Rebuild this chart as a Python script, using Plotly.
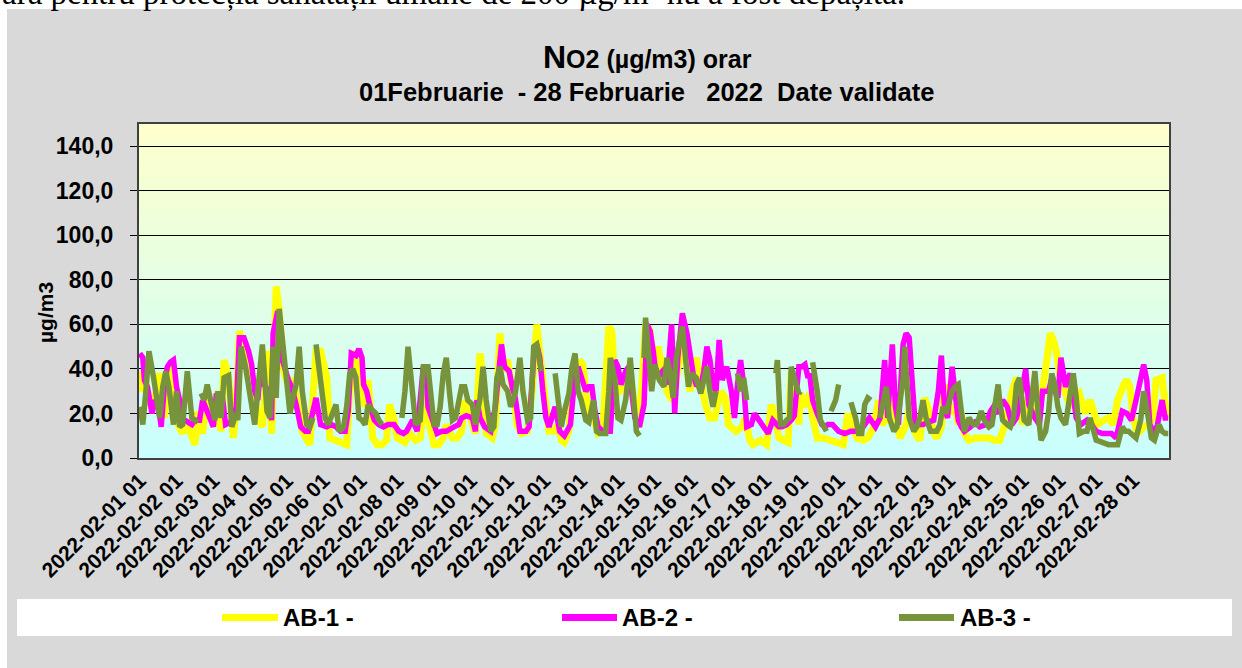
import plotly.graph_objects as go

# ---------------- data (hour index 0..671 -> category label) ----------------
DAYS = list(range(1, 29))
CATEGORIES = [f"2022-02-{d:02d} {h:02d}" for d in DAYS for h in range(1, 25)]
TICK_LABELS = [f"2022-02-{d:02d} 01" for d in DAYS]

AB1_HOUR = [0, 2, 4, 7, 10, 13, 16, 18, 21, 25, 28, 30, 34, 36, 38, 41, 44, 48, 51, 53, 55, 58, 61, 63, 65, 69, 74, 77, 80, 84, 86, 89, 91, 94, 98, 100, 104, 106, 111, 115, 118, 122, 124, 128, 133, 135, 137, 141, 143, 145, 147, 149, 152, 155, 158, 161, 163, 166, 168, 170, 173, 176, 180, 183, 186, 188, 192, 195, 198, 200, 204, 207, 210, 212, 216, 219, 222, 224, 226, 230, 232, 235, 237, 240, 242, 244, 246, 249, 253, 256, 259, 261, 263, 265, 267, 270, 273, 275, 277, 280, 282, 285, 287, 289, 292, 293, 296, 299, 302, 306, 308, 310, 313, 317, 320, 323, 326, 330, 333, 335, 338, 341, 344, 347, 350, 354, 356, 359, 363, 366, 369, 372, 375, 379, 382, 384, 386, 389, 393, 395, 398, 400, 405, 409, 412, 414, 417, 420, 423, 425, 427, 430, 431, 433, 435, 437, 439, 442, 446, 450, 455, 459, 462, 464, 468, 472, 475, 479, 482, 484, 487, 491, 493, 496, 500, 504, 506, 509, 512, 514, 518, 520, 523, 525, 527, 531, 532, 534, 536, 538, 541, 545, 549, 554, 558, 561, 564, 568, 570, 572, 574, 576, 579, 581, 583, 585, 588, 592, 594, 596, 598, 600, 603, 605, 607, 610, 613, 617, 620, 622, 625, 629, 632, 635, 638, 642, 644, 646, 648, 651, 655, 658, 661, 663, 667, 669, 671]
AB1_NO2 = [39, 30, 33, 25, 27, 38, 18, 30, 43, 15, 11, 17, 8, 6, 21, 11, 30, 14, 30, 12, 44, 36, 9, 23, 57, 47, 32, 18, 14, 48, 11, 77, 66, 39, 30, 36, 17, 12, 6, 48, 48, 36, 9, 8, 6, 6, 30, 48, 45, 29, 23, 35, 9, 6, 6, 8, 24, 17, 9, 8, 7, 11, 8, 9, 29, 18, 6, 6, 9, 15, 9, 9, 12, 26, 17, 11, 47, 36, 11, 9, 15, 56, 39, 44, 35, 30, 15, 11, 12, 30, 60, 45, 30, 23, 12, 12, 15, 8, 7, 12, 30, 38, 44, 42, 23, 18, 18, 11, 12, 59, 57, 33, 30, 33, 38, 23, 14, 60, 57, 38, 50, 38, 30, 26, 35, 54, 45, 30, 45, 32, 24, 18, 18, 30, 27, 15, 14, 12, 14, 18, 8, 6, 8, 6, 24, 20, 9, 8, 7, 39, 30, 15, 29, 23, 26, 29, 18, 9, 9, 8, 7, 6, 20, 15, 9, 8, 9, 14, 26, 15, 17, 30, 18, 9, 15, 29, 11, 8, 27, 23, 11, 9, 14, 33, 26, 20, 23, 15, 20, 11, 8, 9, 9, 9, 8, 8, 14, 27, 32, 36, 30, 15, 23, 32, 21, 17, 26, 45, 56, 53, 48, 38, 30, 27, 23, 27, 29, 20, 26, 21, 15, 17, 18, 15, 26, 33, 35, 32, 18, 11, 14, 15, 18, 35, 36, 24, 18]

AB2_HOUR = [0, 2, 3, 5, 8, 10, 12, 14, 16, 18, 20, 22, 24, 26, 27, 30, 34, 36, 39, 41, 43, 46, 48, 50, 52, 54, 56, 59, 61, 63, 65, 68, 71, 73, 75, 77, 79, 81, 84, 86, 87, 90, 93, 97, 99, 102, 105, 108, 110, 115, 118, 122, 125, 128, 131, 134, 136, 138, 141, 143, 145, 146, 148, 150, 153, 156, 159, 162, 166, 169, 172, 174, 178, 181, 185, 187, 188, 191, 194, 197, 200, 205, 208, 210, 213, 217, 219, 220, 222, 225, 229, 232, 236, 238, 241, 243, 245, 248, 252, 254, 257, 259, 261, 263, 265, 267, 269, 271, 274, 277, 281, 284, 286, 288, 291, 293, 295, 297, 299, 302, 307, 310, 312, 314, 317, 319, 321, 323, 326, 329, 331, 333, 335, 337, 341, 344, 347, 349, 351, 354, 357, 359, 361, 363, 366, 368, 370, 372, 374, 376, 378, 380, 383, 386, 388, 390, 392, 394, 396, 399, 401, 404, 407, 410, 413, 417, 419, 422, 425, 427, 430, 432, 434, 436, 437, 439, 442, 445, 447, 449, 452, 456, 460, 464, 468, 472, 476, 480, 483, 486, 488, 491, 493, 495, 498, 500, 502, 504, 506, 508, 511, 514, 518, 521, 523, 525, 527, 530, 532, 534, 536, 538, 542, 545, 548, 552, 555, 557, 560, 563, 566, 569, 572, 574, 578, 580, 582, 584, 587, 589, 593, 595, 597, 599, 601, 604, 607, 609, 611, 614, 618, 621, 624, 628, 631, 634, 637, 641, 644, 647, 650, 653, 655, 657, 659, 662, 664, 667, 669, 671]
AB2_NO2 = [47, 45, 35, 32, 20, 26, 24, 14, 32, 41, 43, 44, 32, 26, 18, 17, 15, 17, 17, 26, 23, 18, 14, 29, 23, 27, 15, 16, 18, 23, 54, 54, 48, 42, 30, 26, 42, 33, 30, 17, 56, 66, 44, 35, 32, 24, 14, 12, 12, 27, 15, 14, 15, 14, 12, 12, 21, 47, 46, 49, 45, 33, 30, 24, 17, 15, 14, 15, 15, 12, 11, 12, 17, 12, 41, 38, 23, 17, 11, 12, 12, 14, 15, 18, 19, 18, 12, 26, 18, 14, 12, 23, 51, 41, 39, 32, 27, 12, 12, 14, 45, 51, 45, 30, 18, 14, 18, 23, 12, 10, 15, 38, 41, 36, 30, 32, 32, 21, 14, 12, 12, 44, 41, 33, 39, 41, 29, 18, 14, 24, 60, 57, 48, 36, 39, 33, 60, 20, 45, 65, 56, 45, 38, 33, 32, 39, 50, 44, 32, 30, 53, 35, 41, 30, 18, 33, 44, 33, 14, 15, 20, 17, 14, 11, 17, 14, 14, 15, 17, 19, 41, 41, 42, 36, 38, 26, 20, 15, 14, 15, 15, 12, 11, 12, 12, 14, 18, 14, 18, 44, 18, 51, 23, 15, 51, 56, 54, 30, 14, 15, 15, 16, 17, 30, 46, 23, 18, 41, 27, 17, 14, 12, 14, 16, 14, 15, 21, 23, 20, 26, 23, 15, 18, 24, 40, 24, 21, 18, 15, 30, 30, 36, 30, 27, 45, 32, 38, 26, 18, 15, 17, 15, 12, 11, 11, 11, 9, 21, 20, 17, 26, 36, 42, 35, 15, 11, 15, 26, 18, 18]

AB3_HOUR = [0, 2, 4, 6, 9, 11, 13, 15, 17, 19, 22, 24, 26, 28, 31, 34, 36, 38, 39, 40, 42, 44, 47, 49, 51, 53, 55, 58, 60, 63, 64, 66, 69, 72, 75, 77, 80, 83, 85, 87, 89, 91, 93, 96, 98, 100, 102, 104, 106, 109, 111, 113, 114, 115, 118, 121, 123, 126, 128, 130, 133, 135, 137, 139, 141, 143, 145, 147, 149, 151, 154, 156, 158, 160, 171, 173, 175, 178, 180, 183, 185, 188, 190, 192, 194, 196, 198, 200, 202, 204, 206, 208, 210, 212, 214, 217, 219, 222, 224, 226, 229, 231, 233, 235, 237, 240, 242, 245, 248, 250, 253, 255, 257, 259, 261, 262, 263, 271, 273, 275, 277, 280, 282, 284, 286, 288, 291, 293, 296, 298, 300, 304, 306, 307, 310, 312, 314, 317, 320, 322, 324, 326, 327, 329, 330, 334, 336, 339, 342, 344, 346, 348, 350, 354, 356, 358, 360, 363, 366, 368, 370, 372, 374, 376, 377, 390, 392, 394, 396, 397, 415, 416, 418, 420, 422, 424, 425, 427, 430, 431, 432, 439, 442, 444, 446, 448, 449, 451, 454, 456, 457, 464, 467, 469, 471, 473, 475, 477, 478, 483, 485, 487, 489, 492, 494, 496, 498, 499, 500, 502, 505, 507, 509, 511, 513, 516, 518, 520, 522, 524, 526, 528, 530, 532, 534, 536, 538, 541, 544, 546, 549, 551, 554, 556, 558, 560, 561, 563, 566, 568, 570, 572, 574, 575, 577, 580, 582, 584, 586, 588, 591, 593, 595, 597, 599, 601, 604, 606, 609, 611, 613, 616, 618, 620, 622, 624, 628, 632, 635, 638, 641, 643, 645, 647, 650, 653, 655, 658, 660, 662, 665, 667, 669, 671]
AB3_NO2 = [23, 15, 30, 48, 36, 26, 18, 32, 39, 32, 15, 30, 14, 15, 39, 18, 17, 16, None, 29, 26, 33, 24, 17, 30, 18, 36, 37, 14, 20, 17, 50, 41, 26, 15, 30, 51, 21, 18, 50, 27, 67, 53, 35, 20, 27, 33, 50, 30, 15, 14, 18, None, 51, 36, 18, 15, 21, 24, 12, 14, 23, 38, 40, 36, 18, 17, 15, 24, 22, 20, 17, 15, None, 18, 30, 50, 30, 15, 17, 41, 41, 30, 15, 15, 23, 38, 45, 30, 17, 18, 24, 32, 32, 26, 24, 15, 27, 41, 26, 12, 14, 36, 41, 33, 30, 23, 29, 45, 30, 17, 18, 50, 51, 44, 39, None, 38, 26, 14, 21, 29, 41, 47, 30, 26, 17, 16, 26, 12, 11, 11, 30, 45, 35, 18, 17, 26, 45, 26, 12, 10, None, 45, 63, 30, 42, 35, 32, 45, 38, 27, 45, 59, 45, 32, 38, 36, 29, 36, 41, 30, 23, 30, None, 38, 30, 36, 26, None, 38, 44, 15, 15, 17, 18, 41, 36, 29, 30, None, 43, 30, 17, 14, 12, None, 21, 26, 33, None, 25, 18, 11, 11, 24, 27, 26, None, 18, 24, 32, 18, 12, 14, 23, 36, 50, 36, 18, 12, 14, 18, 26, 18, 12, 12, 12, 15, 23, 20, 26, 30, 32, 33, 21, 12, 18, 15, 15, 21, 17, 14, 15, 24, 33, 26, 17, 15, 14, 18, 33, 36, 27, 17, 15, 27, 39, 21, 8, 12, 21, 38, 33, 23, 18, 15, 24, 38, 27, 11, 12, 12, 18, 12, 8, 7, 6, 6, 6, 14, 12, 12, 11, 9, 17, 30, 18, 9, 8, 15, 12, 11, 11]

SERIES = [
    ("AB-1 -", AB1_HOUR, AB1_NO2, "#FFFF00", 7),
    ("AB-2 -", AB2_HOUR, AB2_NO2, "#FF00FF", 5.5),
    ("AB-3 -", AB3_HOUR, AB3_NO2, "#77933C", 5.5),
]

# ---------------- layout geometry (pixels) ----------------
W, H = 1242, 668
L, R, T, B = 139, 1169, 124, 458
PW, PH = R - L, B - T
FONT = "Liberation Sans, Arial, sans-serif"


def px_x(x):
    return (x - L) / PW


def px_y(y):
    return (B - y) / PH


fig = go.Figure()
for name, hours, vals, color, width in SERIES:
    fig.add_trace(go.Scatter(
        x=[CATEGORIES[h] for h in hours], y=vals, mode="lines", name=name,
        line=dict(color=color, width=width), connectgaps=False, showlegend=False,
    ))

shapes = []
# grey chart-area background
shapes.append(dict(type="rect", xref="paper", yref="paper",
                   x0=px_x(7), x1=px_x(W + 5), y0=px_y(H + 5), y1=px_y(9),
                   fillcolor="#D9D9D9", line=dict(width=0), layer="below"))
# white legend box
shapes.append(dict(type="rect", xref="paper", yref="paper",
                   x0=px_x(17), x1=px_x(1232), y0=px_y(636), y1=px_y(599),
                   fillcolor="#FFFFFF", line=dict(width=0), layer="below"))
# vertical gradient of the plot area (cyan bottom -> light yellow top)
NB = 40
c0, c1 = (200, 255, 255), (255, 255, 204)
for k in range(NB):
    t = (k + 0.5) / NB
    col = tuple(round(c0[j] + (c1[j] - c0[j]) * t) for j in range(3))
    shapes.append(dict(type="rect", xref="x domain", yref="y",
                       x0=0, x1=1, y0=150 * k / NB, y1=150 * (k + 1) / NB + 0.3,
                       fillcolor=f"rgb{col}", line=dict(width=0), layer="below"))

annotations = []
legend_pos = [(222, 278, 281), (562, 617, 620), (899, 954, 958)]
for (name, _, _, color, _), (lx0, lx1, tx) in zip(SERIES, legend_pos):
    shapes.append(dict(type="line", xref="paper", yref="paper",
                       x0=px_x(lx0), x1=px_x(lx1), y0=px_y(617.5), y1=px_y(617.5),
                       line=dict(color=color, width=7), layer="above"))
    annotations.append(dict(text=f"<b>{name}</b>", xref="paper", yref="paper",
                            x=px_x(tx), y=px_y(617), xanchor="left", yanchor="middle",
                            showarrow=False, font=dict(family=FONT, size=24, color="#000")))

# titles
annotations.append(dict(
    text="<b><span style='font-size:32px'>N</span>O2 (µg/m3) orar</b>",
    xref="paper", yref="paper", x=px_x(647), y=px_y(57), xanchor="center", yanchor="middle",
    showarrow=False, font=dict(family=FONT, size=25, color="#000")))
annotations.append(dict(
    text="<b>01Februarie\u00a0\u00a0- 28 Februarie\u00a0\u00a0\u00a02022\u00a0\u00a0Date validate</b>",
    xref="paper", yref="paper", x=px_x(646), y=px_y(92), xanchor="center", yanchor="middle",
    showarrow=False, font=dict(family=FONT, size=25.5, color="#000")))
# y axis title
annotations.append(dict(
    text="<b>µg/m3</b>", xref="paper", yref="paper", x=px_x(45), y=px_y(313),
    xanchor="center", yanchor="middle", textangle=-90, showarrow=False,
    font=dict(family=FONT, size=21, color="#000")))
# cut-off line of the surrounding document (it is cut at the top in the reference too)
annotations.append(dict(
    text="ară pentru protecția sănătății umane de 200 µg/m³ nu a fost depășită.",
    xref="paper", yref="paper", x=px_x(0), y=px_y(-7), xanchor="left", yanchor="middle",
    showarrow=False, font=dict(family="Liberation Serif, Times New Roman, serif", size=33, color="#000")))

fig.update_layout(
    width=W, height=H,
    margin=dict(l=L, r=W - R, t=T, b=H - B, pad=0),
    paper_bgcolor="#FFFFFF", plot_bgcolor="rgba(0,0,0,0)",
    separators=",.",
    showlegend=False,
    shapes=shapes, annotations=annotations,
    xaxis=dict(type="category", categoryorder="array", categoryarray=CATEGORIES,
               range=[-0.5, len(CATEGORIES) - 0.5], tickmode="array",
               tickvals=TICK_LABELS, ticktext=TICK_LABELS, tickangle=-45,
               tickfont=dict(family=FONT, size=21, color="#000", weight="bold"),
               showgrid=False, ticks="", showline=True, linecolor="#404040",
               linewidth=2, mirror=True, zeroline=False),
    yaxis=dict(range=[0, 150], tickmode="array", tickvals=[0, 20, 40, 60, 80, 100, 120, 140],
               tickformat=".1f", tickfont=dict(family=FONT, size=23, color="#000", weight="bold"),
               ticks="outside", ticklen=7, tickcolor="#000", tickwidth=1, ticklabelstandoff=12,
               showgrid=True, gridcolor="#000", gridwidth=1, zeroline=False,
               showline=True, linecolor="#404040", linewidth=2, mirror=True),
)

fig.write_html("out.html", config={"displayModeBar": False},
               post_script="document.body.style.margin='0';document.body.style.overflow='hidden';")
